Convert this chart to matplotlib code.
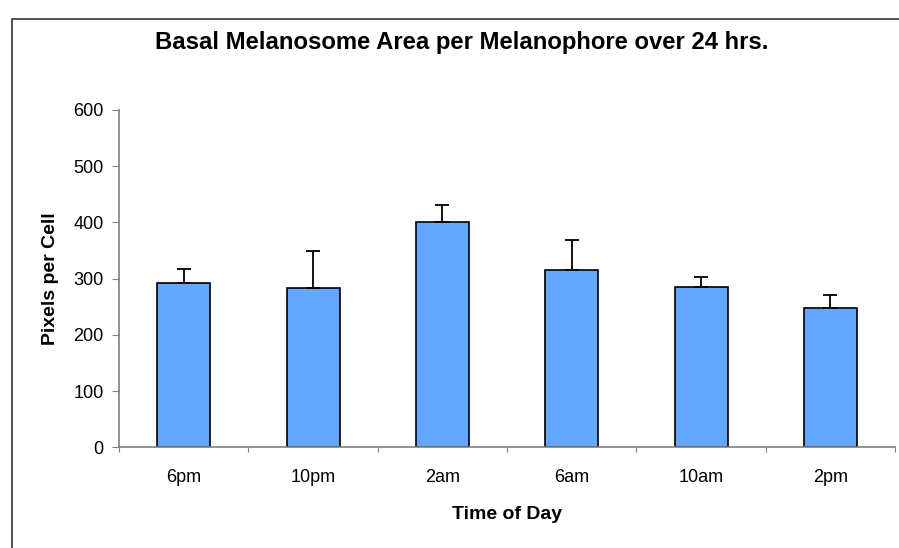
import matplotlib
matplotlib.use("Agg")
import matplotlib.pyplot as plt
from matplotlib.patches import Rectangle

# values
times = ["6pm", "10pm", "2am", "6am", "10am", "2pm"]
pixels = [293, 283, 400, 315, 286, 248]
errors = [25, 67, 31, 54, 17, 23]
yticks = [0, 100, 200, 300, 400, 500, 600]

plt.rcParams["font.family"] = ["Liberation Sans", "DejaVu Sans"]

fig = plt.figure(figsize=(8.99, 5.48), dpi=100)
ax = fig.add_axes([0.1324, 0.1838, 0.8632, 0.6155])

# outer chart frame (cut off at right and bottom like the original)
fig.patches.append(Rectangle((11.5 / 899, -0.05), 1.2, (548 - 19) / 548 + 0.05,
                             transform=fig.transFigure, fill=False,
                             edgecolor="#333333", linewidth=1.2))

x = list(range(len(times)))
ax.bar(x, pixels, width=0.41, color="#63A7FF", edgecolor="black", linewidth=1.2, zorder=2)
ax.errorbar(x, pixels, yerr=[[0] * len(errors), errors], fmt="none",
            ecolor="black", elinewidth=1.3, capsize=4.8, capthick=1.3, zorder=3)

ax.set_xlim(-0.5, len(times) - 0.5)
ax.set_ylim(0, 600)
ax.set_yticks(yticks)
ax.set_xticks([i + 0.5 for i in range(-1, len(times))])
ax.set_xticklabels([])
ax.set_xticks(x, minor=True)
ax.set_xticklabels(times, minor=True)
ax.tick_params(axis="x", which="minor", length=0, pad=15.5, labelsize=13)
ax.tick_params(axis="x", which="major", length=3.6, color="#808080", direction="out")
ax.tick_params(axis="y", length=5, color="#808080", labelsize=13, pad=6)

for side in ["top", "right"]:
    ax.spines[side].set_visible(False)
for side in ["left", "bottom"]:
    ax.spines[side].set_color("#808080")
    ax.spines[side].set_linewidth(1.2)

fig.text(0.514, 1 - 49 / 548, "Basal Melanosome Area per Melanophore over 24 hrs.",
         ha="center", va="baseline", fontsize=17.2, fontweight="bold")
ax.set_xlabel("Time of Day", fontsize=14, fontweight="bold", labelpad=14.5)
ax.set_ylabel("Pixels per Cell", fontsize=14, fontweight="bold", labelpad=10)

fig.savefig("out.png", dpi=100)
